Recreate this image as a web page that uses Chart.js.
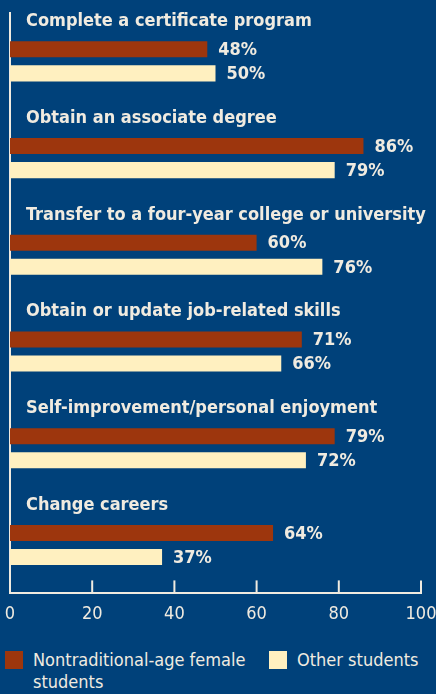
<!DOCTYPE html>
<html>
<head>
<meta charset="utf-8">
<script src="https://cdn.jsdelivr.net/npm/chart.js@4"></script>
<style>
  html, body { margin: 0; padding: 0; background: #00417a; }
  #wrap { position: relative; width: 436px; height: 694px; background: #00417a; overflow: hidden; }
  #chartBox { position: absolute; left: 0; top: 0; width: 436px; height: 635px; }
  .legend { position: absolute; top: 649px; font-family: "Liberation Sans Narrow", "DejaVu Sans Condensed", sans-serif;
            font-size: 18px; color: #f0ebe0; line-height: 22px; }
  .legend .sw { position: absolute; left: 0; top: 2px; width: 18px; height: 18px; }
  .legend .txt { position: absolute; left: 28px; top: 0; white-space: nowrap; }
</style>
</head>
<body>
<div id="wrap">
  <div id="chartBox"><canvas id="chart"></canvas></div>
  <div class="legend" style="left:5px;width:260px;">
    <span class="sw" style="background:#9d360d"></span>
    <span class="txt">Nontraditional-age female<br>students</span>
  </div>
  <div class="legend" style="left:269px;width:160px;">
    <span class="sw" style="background:#fff0c0"></span>
    <span class="txt">Other students</span>
  </div>
</div>
<script>
// --- DATA ---
const categories = [
  'Complete a certificate program',
  'Obtain an associate degree',
  'Transfer to a four-year college or university',
  'Obtain or update job-related skills',
  'Self-improvement/personal enjoyment',
  'Change careers'
];
const seriesNames = ['Nontraditional-age female students', 'Other students'];
const femaleValues = [48, 86, 60, 71, 79, 64];
const otherValues = [50, 79, 76, 66, 72, 37];
const xTicks = [0, 20, 40, 60, 80, 100];

const textColor = '#f0ebe0';
const narrow = '"Liberation Sans Narrow", "DejaVu Sans Condensed", sans-serif';

// kategorie nad pruhy + hodnoty za pruhy + tiky dovnitř
const annotate = {
  id: 'annotate',
  afterDatasetsDraw(chart) {
    const ctx = chart.ctx;
    const y = chart.scales.y;
    const x = chart.scales.x;
    ctx.save();
    ctx.fillStyle = textColor;
    ctx.font = 'bold 18px ' + narrow;
    ctx.textBaseline = 'middle';
    ctx.textAlign = 'left';
    categories.forEach((c, i) => {
      ctx.fillText(c, 26, y.getPixelForValue(i) - 40);
    });
    chart.data.datasets.forEach((ds, di) => {
      chart.getDatasetMeta(di).data.forEach((bar, i) => {
        ctx.fillText(ds.data[i] + '%', bar.x + 11, bar.y + 1);
      });
    });
    // tiky smerem nahoru od osy
    ctx.strokeStyle = textColor;
    ctx.lineWidth = 2;
    xTicks.forEach(t => {
      const px = x.getPixelForValue(t);
      ctx.beginPath();
      ctx.moveTo(px, chart.chartArea.bottom);
      ctx.lineTo(px, chart.chartArea.bottom - 13);
      ctx.stroke();
    });
    ctx.restore();
  }
};

new Chart(document.getElementById('chart'), {
  type: 'bar',
  data: {
    labels: categories,
    datasets: [
      { label: seriesNames[0], data: femaleValues, backgroundColor: '#9d360d', borderWidth: 0 },
      { label: seriesNames[1], data: otherValues, backgroundColor: '#fff0c0', borderWidth: 0 }
    ]
  },
  options: {
    indexAxis: 'y',
    responsive: true,
    maintainAspectRatio: false,
    animation: false,
    categoryPercentage: 0.497,
    barPercentage: 0.667,
    layout: { padding: { top: 13, left: 10, right: 15, bottom: 0 } },
    plugins: {
      legend: { display: false },
      tooltip: { enabled: false }
    },
    scales: {
      x: {
        min: 0, max: 100,
        afterBuildTicks: s => { s.ticks = xTicks.map(v => ({ value: v })); },
        afterFit: s => { s.paddingLeft = 0; s.paddingRight = 0; },
        grid: { display: false, drawTicks: false },
        border: { display: true, color: textColor, width: 2 },
        ticks: { color: textColor, font: { family: narrow, size: 18 }, padding: 10 }
      },
      y: {
        afterFit: s => { s.width = 0; },
        grid: { display: false, drawTicks: false },
        border: { display: true, color: textColor, width: 2 },
        ticks: { display: false }
      }
    }
  },
  plugins: [annotate]
});
</script>
</body>
</html>
